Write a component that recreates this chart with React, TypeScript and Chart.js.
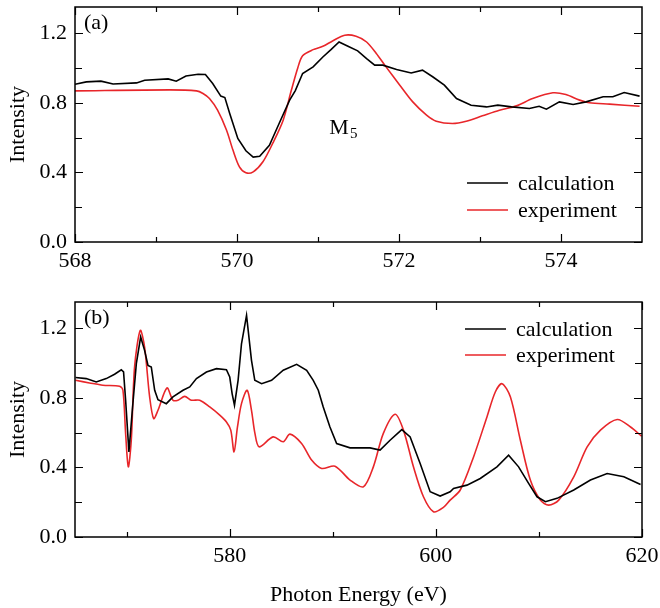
import React, { useEffect, useRef } from 'react';
import { Chart, registerables } from 'chart.js';

Chart.register(...registerables);

const FONT = "'Liberation Serif', 'Times New Roman', serif";

// ---------- panel (a): M5 edge ----------
const calcAEnergy = [568.0, 568.14, 568.32, 568.47, 568.76, 568.86, 569.15, 569.25, 569.37, 569.52, 569.61, 569.7, 569.8, 569.85, 569.91, 570.01, 570.11, 570.2, 570.28, 570.4, 570.52, 570.65, 570.72, 570.81, 570.94, 571.06, 571.16, 571.26, 571.37, 571.49, 571.6, 571.7, 571.8, 571.97, 572.15, 572.29, 572.42, 572.56, 572.71, 572.89, 573.08, 573.22, 573.39, 573.61, 573.73, 573.82, 573.98, 574.15, 574.31, 574.52, 574.64, 574.78, 574.97];
const calcAIntensity = [0.906, 0.92, 0.924, 0.908, 0.914, 0.929, 0.937, 0.924, 0.954, 0.964, 0.962, 0.91, 0.838, 0.83, 0.738, 0.595, 0.524, 0.488, 0.493, 0.556, 0.681, 0.815, 0.87, 0.968, 1.006, 1.063, 1.105, 1.149, 1.124, 1.098, 1.054, 1.016, 1.016, 0.991, 0.971, 0.987, 0.948, 0.901, 0.824, 0.786, 0.776, 0.786, 0.776, 0.767, 0.78, 0.763, 0.805, 0.79, 0.805, 0.834, 0.834, 0.859, 0.838];
const expAEnergy = [568.0, 569.17, 569.5, 569.58, 569.66, 569.76, 569.87, 569.95, 570.03, 570.11, 570.2, 570.32, 570.44, 570.57, 570.67, 570.75, 570.81, 570.94, 571.06, 571.18, 571.33, 571.47, 571.6, 571.72, 571.84, 572.01, 572.17, 572.34, 572.46, 572.66, 572.83, 573.03, 573.24, 573.45, 573.65, 573.9, 574.06, 574.23, 574.35, 574.6, 574.97];
const expAIntensity = [0.868, 0.874, 0.868, 0.853, 0.824, 0.757, 0.643, 0.528, 0.432, 0.398, 0.403, 0.461, 0.566, 0.7, 0.87, 1.0, 1.07, 1.105, 1.124, 1.155, 1.188, 1.182, 1.149, 1.083, 1.006, 0.901, 0.805, 0.729, 0.694, 0.681, 0.694, 0.725, 0.757, 0.782, 0.824, 0.857, 0.847, 0.815, 0.8, 0.792, 0.78];

// ---------- panel (b): full range ----------
const calcBEnergy = [565.05, 566.09, 567.06, 568.03, 568.84, 569.49, 569.71, 569.91, 570.23, 570.56, 570.95, 571.37, 571.75, 572.08, 572.4, 572.73, 573.05, 573.86, 574.5, 575.48, 576.13, 576.78, 577.75, 578.72, 579.69, 580.01, 580.24, 580.47, 580.82, 581.15, 581.64, 582.12, 582.44, 583.1, 584.07, 585.2, 586.5, 587.47, 588.11, 588.6, 589.08, 589.73, 590.38, 591.68, 593.62, 594.59, 595.56, 596.7, 597.51, 598.48, 599.45, 600.42, 601.39, 601.72, 603.02, 604.31, 605.93, 607.06, 608.03, 609.0, 609.82, 610.63, 611.76, 613.38, 615.0, 616.62, 618.24, 619.86];
const calcBIntensity = [0.916, 0.91, 0.891, 0.91, 0.935, 0.961, 0.948, 0.786, 0.489, 0.728, 0.996, 1.149, 1.072, 0.986, 0.977, 0.843, 0.789, 0.766, 0.805, 0.843, 0.862, 0.91, 0.948, 0.967, 0.961, 0.919, 0.824, 0.757, 0.9, 1.11, 1.273, 1.015, 0.9, 0.881, 0.9, 0.958, 0.992, 0.958, 0.9, 0.843, 0.747, 0.632, 0.537, 0.512, 0.512, 0.499, 0.556, 0.617, 0.575, 0.422, 0.26, 0.235, 0.26, 0.279, 0.298, 0.336, 0.403, 0.47, 0.403, 0.308, 0.231, 0.203, 0.222, 0.27, 0.327, 0.365, 0.346, 0.302];
const expBEnergy = [565.05, 566.41, 567.7, 569.32, 569.65, 569.91, 570.17, 570.46, 570.78, 571.33, 571.75, 572.24, 572.63, 573.05, 573.92, 574.5, 574.99, 575.64, 576.29, 577.1, 578.07, 579.04, 579.69, 580.11, 580.43, 580.76, 581.15, 581.7, 582.12, 582.44, 582.86, 584.22, 585.2, 585.85, 586.98, 587.95, 588.93, 590.22, 591.68, 592.97, 593.94, 594.91, 596.05, 596.86, 597.83, 598.8, 599.77, 600.74, 601.39, 602.37, 603.66, 604.96, 605.77, 606.42, 607.23, 608.2, 609.17, 610.14, 610.95, 611.92, 613.38, 614.68, 615.97, 617.59, 618.89, 619.96];
const expBIntensity = [0.9, 0.885, 0.872, 0.866, 0.843, 0.595, 0.403, 0.556, 0.977, 1.187, 1.091, 0.805, 0.68, 0.728, 0.856, 0.786, 0.786, 0.808, 0.786, 0.786, 0.747, 0.7, 0.661, 0.614, 0.489, 0.632, 0.766, 0.843, 0.728, 0.6, 0.518, 0.575, 0.547, 0.591, 0.537, 0.442, 0.394, 0.407, 0.327, 0.288, 0.403, 0.595, 0.705, 0.614, 0.403, 0.231, 0.145, 0.17, 0.212, 0.27, 0.46, 0.69, 0.833, 0.881, 0.805, 0.556, 0.327, 0.212, 0.183, 0.212, 0.346, 0.518, 0.614, 0.675, 0.632, 0.579];

// ---------- axes ----------
const yTicks = [0, 0.4, 0.8, 1.2];
const yMinorTicks = [0.2, 0.6, 1.0];
const xTicksA = [568, 570, 572, 574];
const xMinorA = [569, 571, 573];
const xTicksB = [580, 600, 620];
const xMinorB = [570, 590, 610];
const seriesLabels = ['calculation', 'experiment'];
const seriesColors = ['#000000', '#e8262a'];

const toPoints = (xs: number[], ys: number[]) => xs.map((x, i) => ({ x, y: ys[i] }));

const framePlugin = {
  id: 'frame',
  afterDraw(chart: any, _args: any, opts: any) {
    const { ctx, chartArea: a, scales } = chart;
    const xs = scales.x;
    const ys = scales.y;
    ctx.save();
    ctx.strokeStyle = '#000';
    ctx.lineWidth = 1.5;
    ctx.strokeRect(a.left, a.top, a.right - a.left, a.bottom - a.top);
    ctx.lineWidth = 1.2;
    const xt = (vals: number[], len: number) => {
      vals.forEach((v) => {
        const p = Math.round(xs.getPixelForValue(v)) + 0.5;
        ctx.beginPath();
        ctx.moveTo(p, a.bottom);
        ctx.lineTo(p, a.bottom - len);
        ctx.moveTo(p, a.top);
        ctx.lineTo(p, a.top + len);
        ctx.stroke();
      });
    };
    const yt = (vals: number[], len: number) => {
      vals.forEach((v) => {
        const p = Math.round(ys.getPixelForValue(v)) + 0.5;
        ctx.beginPath();
        ctx.moveTo(a.left, p);
        ctx.lineTo(a.left + len, p);
        ctx.moveTo(a.right, p);
        ctx.lineTo(a.right - len, p);
        ctx.stroke();
      });
    };
    xt(opts.xMajor, 8);
    xt(opts.xMinor, 5);
    yt(yTicks, 8);
    yt(yMinorTicks, 7);

    // legend
    ctx.font = `22px ${FONT}`;
    ctx.textBaseline = 'middle';
    ctx.textAlign = 'left';
    chart.data.datasets.forEach((ds: any, i: number) => {
      const ly = opts.legend.y + i * opts.legend.dy;
      ctx.strokeStyle = ds.borderColor;
      ctx.lineWidth = 1.6;
      ctx.beginPath();
      ctx.moveTo(opts.legend.x, ly);
      ctx.lineTo(opts.legend.x + 41, ly);
      ctx.stroke();
      ctx.fillStyle = '#000';
      ctx.fillText(ds.label, opts.legend.x + 51, ly + 1);
    });

    // panel label
    ctx.fillStyle = '#000';
    ctx.font = `22px ${FONT}`;
    ctx.fillText(opts.panel, a.left + 9, a.top + 16);

    if (opts.edge) {
      const ex = xs.getPixelForValue(opts.edge.x);
      const ey = ys.getPixelForValue(opts.edge.y);
      ctx.textBaseline = 'alphabetic';
      ctx.font = `22px ${FONT}`;
      ctx.fillText('M', ex, ey);
      const w = ctx.measureText('M').width;
      ctx.font = `15px ${FONT}`;
      ctx.fillText('5', ex + w + 1, ey + 4);
    }
    ctx.restore();
  },
};

function makeConfig(
  calc: { x: number; y: number }[],
  exp: { x: number; y: number }[],
  xMin: number,
  xMax: number,
  xMajor: number[],
  xMinor: number[],
  xAxisHeight: number,
  padTop: number,
  xTitle: string | null,
  legend: { x: number; y: number; dy: number },
  panel: string,
  edge: { x: number; y: number } | null
): any {
  return {
    type: 'scatter',
    data: {
      datasets: [
        { label: seriesLabels[0], data: calc, showLine: true, borderColor: seriesColors[0], borderWidth: 1.6, pointRadius: 0, tension: 0 },
        { label: seriesLabels[1], data: exp, showLine: true, borderColor: seriesColors[1], borderWidth: 1.6, pointRadius: 0, tension: 0.3 },
      ],
    },
    options: {
      responsive: false,
      animation: false,
      devicePixelRatio: 1,
      layout: { padding: { left: 0, right: 18, top: padTop, bottom: 0 } },
      plugins: {
        legend: { display: false },
        tooltip: { enabled: false },
        frame: { xMajor, xMinor, legend, panel, edge },
      },
      scales: {
        x: {
          type: 'linear',
          min: xMin,
          max: xMax,
          grid: { display: false, drawTicks: false },
          border: { display: false },
          ticks: { color: '#000', font: { family: FONT, size: 22 }, padding: 6, maxRotation: 0 },
          afterBuildTicks: (s: any) => {
            s.ticks = xMajor.map((v) => ({ value: v }));
          },
          afterFit: (s: any) => {
            s.height = xAxisHeight;
            s.paddingLeft = 0;
            s.paddingRight = 0;
          },
          title: xTitle
            ? { display: true, text: xTitle, color: '#000', font: { family: FONT, size: 22 }, padding: { top: 2, bottom: 0 } }
            : { display: false },
        },
        y: {
          type: 'linear',
          min: 0,
          max: 1.35,
          grid: { display: false, drawTicks: false },
          border: { display: false },
          ticks: {
            color: '#000',
            font: { family: FONT, size: 22 },
            padding: 8,
            callback: (v: number) => v.toFixed(1),
          },
          afterBuildTicks: (s: any) => {
            s.ticks = yTicks.map((v) => ({ value: v }));
          },
          afterFit: (s: any) => {
            s.width = 75;
            s.paddingTop = 0;
            s.paddingBottom = 0;
          },
          title: { display: true, text: 'Intensity', color: '#000', font: { family: FONT, size: 22 }, padding: { top: 5, bottom: 4 } },
        },
      },
    },
    plugins: [framePlugin],
  };
}

export default function App() {
  const topRef = useRef<HTMLCanvasElement>(null);
  const botRef = useRef<HTMLCanvasElement>(null);

  useEffect(() => {
    const c1 = new Chart(
      topRef.current as HTMLCanvasElement,
      makeConfig(
        toPoints(calcAEnergy, calcAIntensity),
        toPoints(expAEnergy, expAIntensity),
        568, 575, xTicksA, xMinorA, 33, 7, null,
        { x: 467, y: 183, dy: 27 }, '(a)', { x: 571.14, y: 0.62 }
      )
    );
    const c2 = new Chart(
      botRef.current as HTMLCanvasElement,
      makeConfig(
        toPoints(calcBEnergy, calcBIntensity),
        toPoints(expBEnergy, expBIntensity),
        565, 620, xTicksB, xMinorB, 71, 27, 'Photon Energy (eV)',
        { x: 465, y: 54, dy: 26 }, '(b)', null
      )
    );
    return () => {
      c1.destroy();
      c2.destroy();
    };
  }, []);

  return (
    <div style={{ position: 'absolute', left: 0, top: 0, width: 660, height: 608, background: '#fff' }}>
      <canvas ref={topRef} width={660} height={275} style={{ position: 'absolute', left: 0, top: 0 }} />
      <canvas ref={botRef} width={660} height={333} style={{ position: 'absolute', left: 0, top: 275 }} />
    </div>
  );
}
